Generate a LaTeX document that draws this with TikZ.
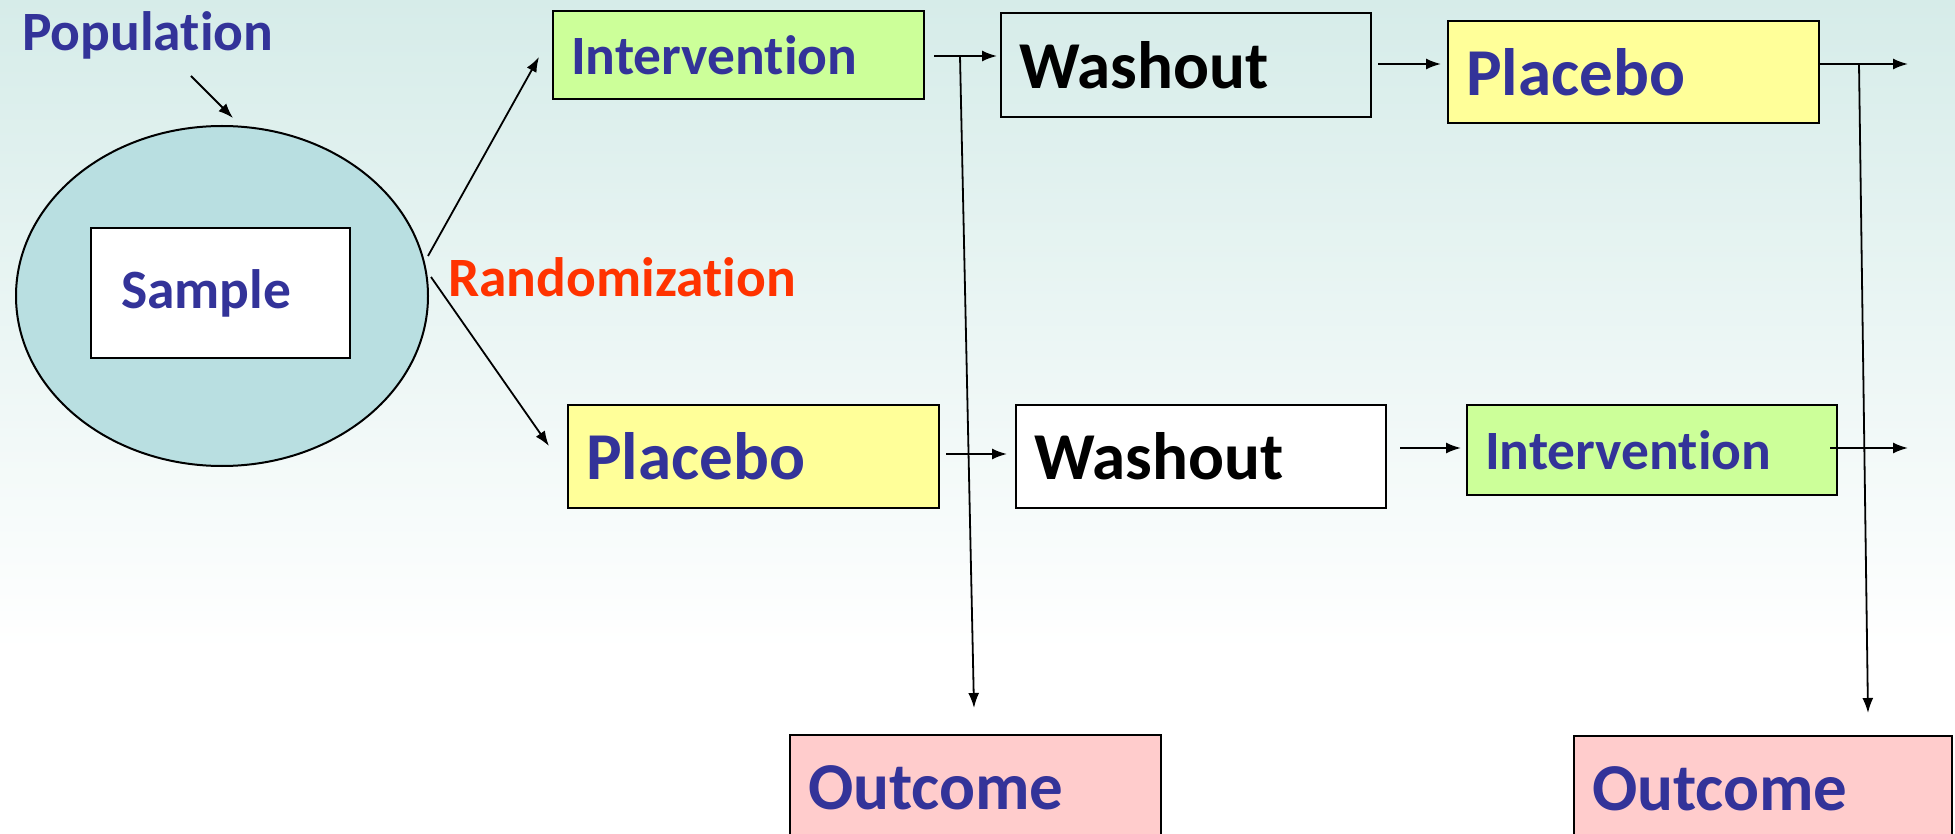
\documentclass[tikz,border=0pt]{standalone}
\usepackage{fontspec}
\setmainfont{Carlito}[Ligatures=NoCommon]
\usetikzlibrary{shapes.geometric,arrows.meta}
\definecolor{bgtop}{RGB}{214,236,233}
\definecolor{ellfill}{RGB}{185,223,225}
\definecolor{txtblue}{RGB}{51,51,153}
\definecolor{txtred}{RGB}{255,51,0}
\definecolor{intgreen}{RGB}{204,255,153}
\definecolor{plaYellow}{RGB}{255,255,153}
\definecolor{outPink}{RGB}{255,204,204}
\tikzset{
  box/.style={draw=black, line width=2.2pt, rectangle, inner xsep=18pt, inner ysep=0pt, align=left, anchor=north west},
  smalltext/.style={font=\bfseries\fontsize{55.5}{60}\selectfont, text=txtblue},
  bigtext/.style={font=\bfseries\fontsize{67}{72}\selectfont},
  arr/.style={line width=1.8pt, -{Latex[length=15pt,width=11pt]}},
}
\begin{document}
\begin{tikzpicture}[x=1pt,y=-1pt]
\useasboundingbox (0,0) rectangle (1955,834);
\shade[top color=bgtop, bottom color=white] (0,0) rectangle (1955,650);
\fill[white] (0,650) rectangle (1955,834);

% sample ellipse
\node[ellipse, draw=black, line width=2pt, fill=ellfill, minimum width=412pt, minimum height=340pt, inner sep=0pt] (ell) at (222,296) {};
\node[box, fill=white, minimum width=259pt, minimum height=130pt, text width=199pt, inner xsep=30pt, smalltext] (samp) at (90,227) {Sample};

\node[smalltext, anchor=west, inner sep=0pt] (pop) at (22,35) {Population};
\node[font=\bfseries\fontsize{55.5}{60}\selectfont, text=txtred, anchor=west, inner sep=0pt] (rand) at (448,277) {Randomization};

% top row
\node[box, fill=intgreen, minimum width=371pt, minimum height=88pt, text width=335pt, smalltext] (int1) at (552,10) {Intervention};
\node[box, minimum width=370pt, minimum height=104pt, text width=334pt, bigtext] (wash1) at (1000,12) {Washout};
\node[box, fill=plaYellow, minimum width=371pt, minimum height=102pt, text width=335pt, bigtext, text=txtblue] (pla1) at (1447,20) {Placebo};

% bottom row
\node[box, fill=plaYellow, minimum width=371pt, minimum height=103pt, text width=335pt, bigtext, text=txtblue] (pla2) at (567,404) {Placebo};
\node[box, fill=white, minimum width=370pt, minimum height=103pt, text width=334pt, bigtext] (wash2) at (1015,404) {Washout};
\node[box, fill=intgreen, minimum width=370pt, minimum height=90pt, text width=334pt, smalltext] (int2) at (1466,404) {Intervention};

% outcomes
\node[box, fill=outPink, minimum width=371pt, minimum height=106pt, text width=335pt, bigtext, text=txtblue] (out1) at (789,734) {Outcome};
\node[box, fill=outPink, minimum width=378pt, minimum height=106pt, text width=342pt, bigtext, text=txtblue] (out2) at (1573,735) {Outcome};

% coordinates
\coordinate (popA) at (191,76);
\coordinate (popB) at (233,118);
\coordinate (rU0) at (428,256);
\coordinate (rU1) at (539,57);
\coordinate (rD0) at (431,277);
\coordinate (rD1) at (549,446);
\coordinate (t1a) at (934,56);
\coordinate (t1b) at (997,56);
\coordinate (t2a) at (1378,64);
\coordinate (t2b) at (1441,64);
\coordinate (t3a) at (1820,64);
\coordinate (t3b) at (1908,64);
\coordinate (b1a) at (946,454);
\coordinate (b1b) at (1007,454);
\coordinate (b2a) at (1400,448);
\coordinate (b2b) at (1461,448);
\coordinate (b3a) at (1830,448);
\coordinate (b3b) at (1908,448);
\coordinate (v1a) at (960,56);
\coordinate (v1b) at (974,708);
\coordinate (v2a) at (1859,64);
\coordinate (v2b) at (1868,713);

\draw[arr] (popA) -- (popB);
\draw[arr] (rU0) -- (rU1);
\draw[arr] (rD0) -- (rD1);
\draw[arr] (t1a) -- (t1b);
\draw[arr] (t2a) -- (t2b);
\draw[arr] (t3a) -- (t3b);
\draw[arr] (b1a) -- (b1b);
\draw[arr] (b2a) -- (b2b);
\draw[arr] (b3a) -- (b3b);
\draw[arr] (v1a) -- (v1b);
\draw[arr] (v2a) -- (v2b);
\end{tikzpicture}
\end{document}
